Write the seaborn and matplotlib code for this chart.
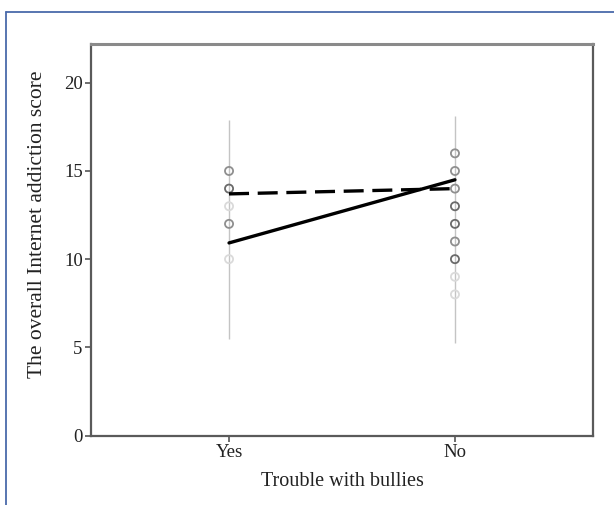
import numpy as np
import pandas as pd
import matplotlib
matplotlib.use("Agg")
import matplotlib.pyplot as plt
from matplotlib.lines import Line2D
import seaborn as sns

# ---- data ----
categories = ["Yes", "No"]
yes_scores = [15, 14, 13, 12, 10]
yes_counts = [3, 4, 1, 3, 1]
no_scores = [16, 15, 14, 13, 12, 11, 10, 9, 8]
no_counts = [3, 3, 3, 4, 4, 3, 4, 1, 1]
range_low = [5.5, 5.25]
range_high = [17.9, 18.1]
fit_solid = [10.92, 14.5]
fit_dashed = [13.7, 14.0]
y_ticks = [0, 5, 10, 15, 20]

sns.set_theme(style="white")
plt.rcParams["font.family"] = ["Liberation Serif", "DejaVu Serif"]

fig = plt.figure(figsize=(6.14, 5.05), dpi=100)
ax = fig.add_axes([91 / 614, 1 - 435.5 / 505, (593 - 91) / 614, (435.5 - 44) / 505])

pos = {c: i for i, c in enumerate(categories)}

# vertical range lines
ax.vlines([pos[c] for c in categories], range_low, range_high, color="#c4c4c4", lw=1.0, zorder=1)

# points
pts = pd.DataFrame({
    "group": ["Yes"] * len(yes_scores) + ["No"] * len(no_scores),
    "score": yes_scores + no_scores,
    "count": yes_counts + no_counts,
})
pts["x"] = pts["group"].map(pos)
sns.scatterplot(data=pts, x="x", y="score", hue="count",
                palette=sns.blend_palette(["#dadada", "#6a6a6a"], as_cmap=True),
                hue_norm=(1, 4), marker="o", s=34, facecolors="none",
                linewidth=1.3, legend=False, ax=ax, zorder=3)
coll = ax.collections[-1]
ec = coll.get_facecolors()
coll.set_edgecolors(ec)
coll.set_facecolors("none")

# fit lines
lines = pd.DataFrame({
    "x": [pos[c] for c in categories] * 2,
    "score": fit_solid + fit_dashed,
    "series": ["solid"] * 2 + ["dashed"] * 2,
})
sns.lineplot(data=lines, x="x", y="score", style="series",
             dashes={"solid": "", "dashed": (6, 2.6)}, color="black",
             linewidth=2.4, legend=False, ax=ax, zorder=4)

ax.set_xlim(-0.611, 1.611)
ax.set_ylim(0, 22.2)
ax.set_xticks([pos[c] for c in categories])
ax.set_xticklabels(categories)
ax.set_yticks(y_ticks)
ax.set_yticklabels([str(t) for t in y_ticks])
ax.tick_params(axis="both", which="both", direction="out", length=4, width=1.2,
               color="#555555", labelsize=13.5, labelcolor="#222222", pad=2,
               bottom=True, left=True)
ax.set_xlabel("Trouble with bullies", fontsize=14.5, color="#222222", labelpad=8)
ax.set_ylabel("The overall Internet addiction score", fontsize=15.5, color="#222222")
ax.yaxis.set_label_coords(-0.087, 0.54)

for side in ["left", "bottom", "right"]:
    ax.spines[side].set_visible(True)
    ax.spines[side].set_color("#5a5a5a")
    ax.spines[side].set_linewidth(1.6)
ax.spines["top"].set_visible(True)
ax.spines["top"].set_color("#8a8a8a")
ax.spines["top"].set_linewidth(2.2)

# outer blue frame (top and left edges)
fig.add_artist(Line2D([6 / 614, 1.0], [1 - 11.5 / 505, 1 - 11.5 / 505],
                      transform=fig.transFigure, color="#4a6aaa", lw=1.3))
fig.add_artist(Line2D([6 / 614, 6 / 614], [0.0, 1 - 11.5 / 505],
                      transform=fig.transFigure, color="#4a6aaa", lw=1.3))

fig.savefig("out.png", dpi=100)
